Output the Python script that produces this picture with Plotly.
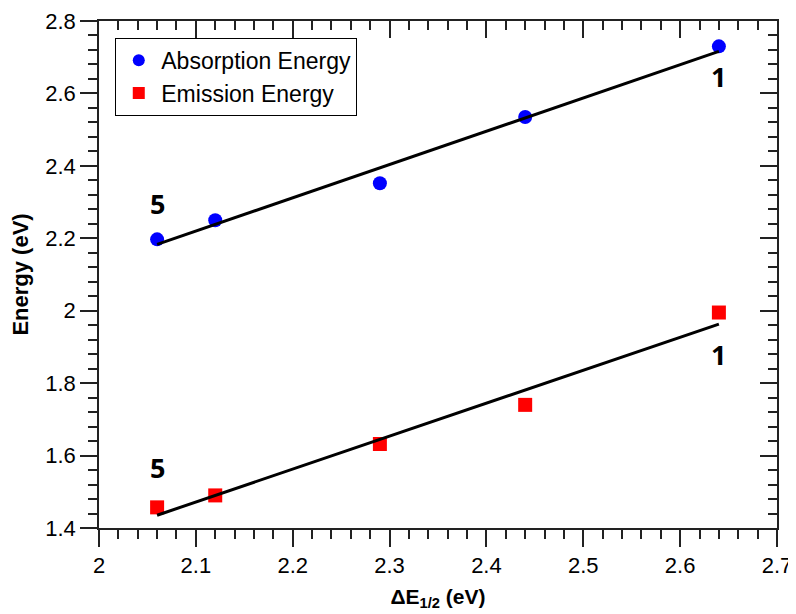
import numpy as np
import plotly.graph_objects as go

# Data
delta_e = [2.06, 2.12, 2.29, 2.44, 2.64]
absorption = [2.197, 2.25, 2.352, 2.535, 2.73]
emission = [1.457, 1.49, 1.632, 1.74, 1.995]
x_ticks = [2, 2.1, 2.2, 2.3, 2.4, 2.5, 2.6, 2.7]
y_ticks = [1.4, 1.6, 1.8, 2.0, 2.2, 2.4, 2.6, 2.8]
point_labels = [("5", 2.06, 2.297), ("1", 2.64, 2.648), ("5", 2.06, 1.568), ("1", 2.64, 1.88)]

xr = [2.0, 2.7]
yr = [1.4, 2.8]

def fit(x, y):
    m, b = np.polyfit(x, y, 1)
    xs = np.array([min(x), max(x)])
    return xs, m * xs + b

fig = go.Figure()
fig.add_trace(go.Scatter(x=delta_e, y=absorption, mode="markers", name="Absorption Energy",
                         marker=dict(symbol="circle", size=14, color="#0000ff")))
fig.add_trace(go.Scatter(x=delta_e, y=emission, mode="markers", name="Emission Energy",
                         marker=dict(symbol="square", size=14, color="#ff0000")))
for ys in (absorption, emission):
    fx, fy = fit(delta_e, ys)
    fig.add_trace(go.Scatter(x=fx, y=fy, mode="lines", line=dict(color="black", width=3),
                             showlegend=False, hoverinfo="skip"))
# dummy trace for mirrored axes
fig.add_trace(go.Scatter(x=[None], y=[None], xaxis="x2", yaxis="y2", showlegend=False))

for t, x, y in point_labels:
    fig.add_annotation(x=x, y=y, text="<b>%s</b>" % t, showarrow=False,
                       font=dict(family="Open Sans", size=27, color="black"))

axcol = "#222222"
common = dict(showgrid=False, zeroline=False, showline=True, linecolor=axcol, linewidth=1.5,
              tickcolor=axcol, tickwidth=1.5, ticklen=17, automargin=False,
              tickfont=dict(family="Liberation Sans", size=22, color="black"))

# page body has an 8px margin, so the figure is sized/offset to compensate
fig.update_layout(
    width=788, height=606,
    margin=dict(l=91, r=19, t=13, b=86),
    plot_bgcolor="white", paper_bgcolor="white",
    xaxis=dict(range=xr, tickvals=x_ticks, ticks="outside",
               minor=dict(dtick=0.02, ticks="outside", ticklen=9, tickcolor=axcol, tickwidth=1.5),
               title=dict(text="<b>ΔE<sub>1/2</sub> (eV)</b>", standoff=12,
                          font=dict(family="Liberation Sans", size=21, color="black")),
               **common),
    yaxis=dict(range=yr, tickvals=y_ticks, ticks="outside",
               minor=dict(dtick=0.04, ticks="outside", ticklen=9, tickcolor=axcol, tickwidth=1.5),
               title=dict(text="<b>Energy (eV)</b>", standoff=12,
                          font=dict(family="Liberation Sans", size=22, color="black")),
               **common),
    xaxis2=dict(range=xr, overlaying="x", side="top", tickvals=x_ticks, ticks="inside",
                showticklabels=False,
                minor=dict(dtick=0.02, ticks="inside", ticklen=9, tickcolor=axcol, tickwidth=1.5),
                **common),
    yaxis2=dict(range=yr, overlaying="y", side="right", tickvals=y_ticks, ticks="inside",
                showticklabels=False,
                minor=dict(dtick=0.04, ticks="inside", ticklen=9, tickcolor=axcol, tickwidth=1.5),
                **common),
    legend=dict(x=0.024, y=0.967, xanchor="left", yanchor="top",
                bordercolor="black", borderwidth=1, bgcolor="white",
                font=dict(family="Liberation Sans", size=23, color="black"),
                itemsizing="constant", itemwidth=35, tracegroupgap=0),
    showlegend=True,
)

fig.write_html("out.html")
